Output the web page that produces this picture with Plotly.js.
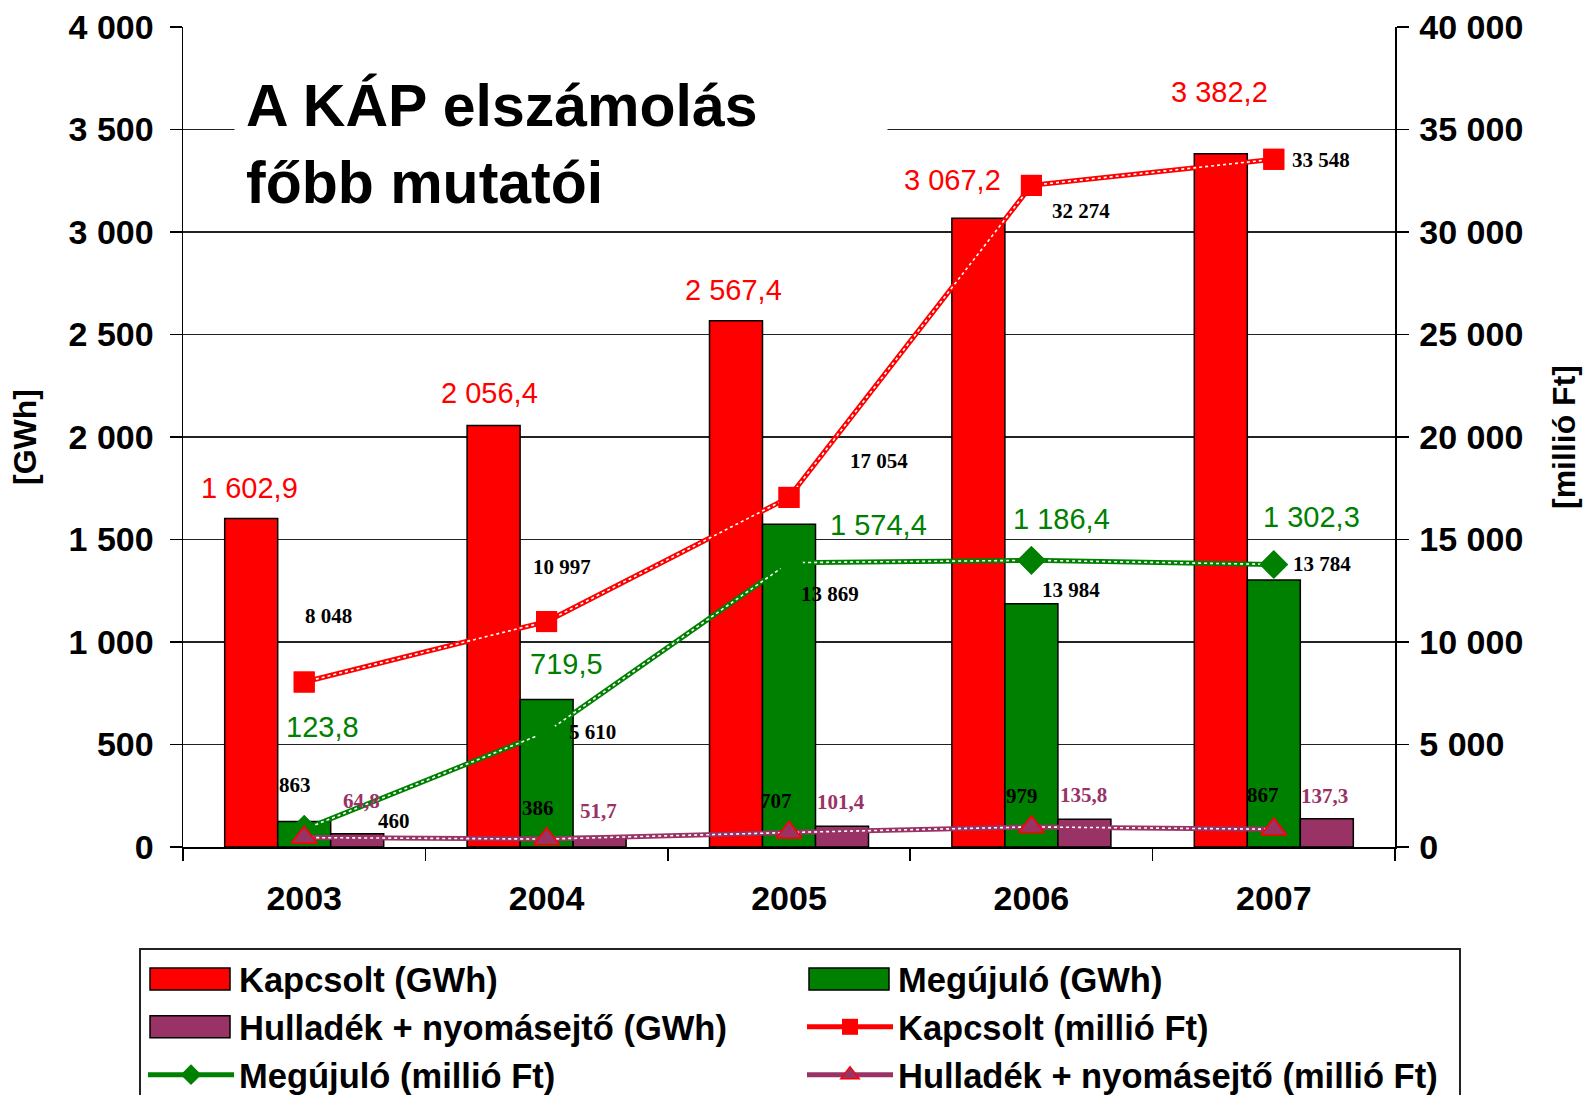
<!DOCTYPE html>
<html>
<head>
<meta charset="utf-8">
<script src="https://cdn.plot.ly/plotly-3.0.1.min.js"></script>
<style>html,body{margin:0;padding:0;background:#fff;}#chart{width:1587px;height:1095px;}</style>
</head>
<body>
<div id="chart"></div>
<script>
// ---- data ----
const years = ['2003', '2004', '2005', '2006', '2007'];
const kapcsoltGWh = [1602.9, 2056.4, 2567.4, 3067.2, 3382.2];
const megujuloGWh = [123.8, 719.5, 1574.4, 1186.4, 1302.3];
const hulladekGWh = [64.8, 51.7, 101.4, 135.8, 137.3];
const kapcsoltFt = [8048, 10997, 17054, 32274, 33548];
const megujuloFt = [863, 5610, 13869, 13984, 13784];
const hulladekFt = [460, 386, 707, 979, 867];

const seriesNames = ['Kapcsolt (GWh)', 'Megújuló (GWh)', 'Hulladék + nyomásejtő (GWh)',
                     'Kapcsolt (millió Ft)', 'Megújuló (millió Ft)', 'Hulladék + nyomásejtő (millió Ft)'];
const chartTitle = 'A KÁP elszámolás<br>főbb mutatói';
const leftAxisTitle = '[GWh]';
const rightAxisTitle = '[millió Ft]';

// ---- label offsets (px) ----
const kapcsoltGWhLabelDx = [-55, -57, -56, -79, -54];
const kapcsoltGWhLabelDy = [30, 32, 31, 38, 62];
const megujuloGWhLabelDx = [18, 20, 89, 30, 38];
const megujuloGWhLabelDy = [95, 36, -1, 85, 63];
const hulladekGWhLabelDx = [57, 52, 52, 52, 51];
const hulladekGWhLabelDy = [33, 25, 24, 24, 23];
const kapcsoltFtLabelDx = [24, 15, 90, 50, 47];
const kapcsoltFtLabelDy = [66, 55, 36, -26, -1];
const megujuloFtLabelDx = [-9, 46, 41, 40, 48];
const megujuloFtLabelDy = [44, 0, -31, -30, 0];
const hulladekFtLabelDx = [90, -9, -13, -9, -11];
const hulladekFtLabelDy = [17, 31, 32, 31, 34];

// ---- styles ----
const RED = '#FF0000', GREEN = '#008000', PURPLE = '#993366';

function group(intStr) {
  return intStr.replace(/\B(?=(\d{3})+(?!\d))/g, ' ');
}
function fmt1(v) {
  const p = v.toFixed(1).split('.');
  return group(p[0]) + ',' + p[1];
}
function fmt0(v) { return group(String(Math.round(v))); }

function barTrace(name, y, color) {
  return {
    type: 'bar', name: name, x: years, y: y, yaxis: 'y',
    marker: {color: color, line: {color: '#000', width: 1.5}},
    hoverinfo: 'skip'
  };
}

const traces = [
  barTrace(seriesNames[0], kapcsoltGWh, RED),
  barTrace(seriesNames[1], megujuloGWh, GREEN),
  barTrace(seriesNames[2], hulladekGWh, PURPLE)
];

function lineTraces(name, y, color, marker) {
  return [
    {type: 'scatter', mode: 'lines+markers', name: name, x: years, y: y, yaxis: 'y2',
     line: {color: color, width: 5}, marker: marker, hoverinfo: 'skip', cliponaxis: false},
    {type: 'scatter', mode: 'lines', x: years, y: y, yaxis: 'y2', showlegend: false,
     line: {color: '#ffffff', width: 1.6, dash: 'dot'}, hoverinfo: 'skip'},
    {type: 'scatter', mode: 'markers', x: years, y: y, yaxis: 'y2', showlegend: false,
     marker: marker, hoverinfo: 'skip', cliponaxis: false}
  ];
}

traces.push(...lineTraces(seriesNames[3], kapcsoltFt, RED,
  {symbol: 'square', size: 21, color: RED, line: {color: RED, width: 0}}));
traces.push(...lineTraces(seriesNames[4], megujuloFt, GREEN,
  {symbol: 'diamond', size: 22, color: GREEN, line: {color: GREEN, width: 0}}));
traces.push(...lineTraces(seriesNames[5], hulladekFt, PURPLE,
  {symbol: 'triangle-up', size: 22, color: PURPLE, line: {color: RED, width: 1.5}}));

const annotations = [];
function addLabels(vals, fmt, yref, dx, dy, font) {
  vals.forEach((v, i) => {
    annotations.push({
      x: i, y: v, xref: 'x', yref: yref, text: fmt(v), showarrow: false,
      xshift: dx[i], yshift: dy[i], xanchor: 'center', yanchor: 'middle',
      font: font
    });
  });
}
const bigFont = c => ({family: 'Liberation Sans, Arial, sans-serif', size: 29, color: c});
const smallFont = c => ({family: 'Liberation Serif, Times New Roman, serif', size: 21, color: c, weight: 'bold'});

addLabels(kapcsoltGWh, fmt1, 'y', kapcsoltGWhLabelDx, kapcsoltGWhLabelDy, bigFont(RED));
addLabels(megujuloGWh, fmt1, 'y', megujuloGWhLabelDx, megujuloGWhLabelDy, bigFont(GREEN));
addLabels(hulladekGWh, fmt1, 'y', hulladekGWhLabelDx, hulladekGWhLabelDy, smallFont(PURPLE));
addLabels(kapcsoltFt, fmt0, 'y2', kapcsoltFtLabelDx, kapcsoltFtLabelDy, smallFont('#000'));
addLabels(megujuloFt, fmt0, 'y2', megujuloFtLabelDx, megujuloFtLabelDy, smallFont('#000'));
addLabels(hulladekFt, fmt0, 'y2', hulladekFtLabelDx, hulladekFtLabelDy, smallFont('#000'));

// chart title box inside plot
annotations.push({
  xref: 'paper', yref: 'paper', x: 0.042, y: 0.857, xanchor: 'left', yanchor: 'middle',
  text: '<b>' + chartTitle + '</b>', showarrow: false, align: 'left',
  width: 630, borderpad: 11, bgcolor: '#ffffff',
  font: {family: 'Liberation Sans, Arial, sans-serif', size: 59, color: '#000'}
});

const tickFont = {family: 'Liberation Sans, Arial, sans-serif', size: 34, color: '#000', weight: 'bold'};
const axTitleFont = {family: 'Liberation Sans, Arial, sans-serif', size: 32, color: '#000', weight: 'bold'};

const layout = {
  width: 1587, height: 1095,
  margin: {l: 183, r: 192, t: 27, b: 248, autoexpand: false},
  paper_bgcolor: '#ffffff', plot_bgcolor: '#ffffff',
  separators: ', ',
  barmode: 'group', bargap: 0.344, bargroupgap: 0,
  showlegend: true,
  xaxis: {
    type: 'category', range: [-0.5, 4.5], tickson: 'boundaries',
    ticks: 'outside', ticklen: 12, tickwidth: 1.5, tickcolor: '#000',
    showline: true, linecolor: '#000', linewidth: 1.5, showgrid: false,
    tickfont: tickFont, ticklabelstandoff: 21, fixedrange: true
  },
  yaxis: {
    range: [0, 4000], dtick: 500, tick0: 0, tickformat: ',d',
    ticks: 'outside', ticklen: 12, tickwidth: 1.5, tickcolor: '#000',
    showline: true, linecolor: '#000', linewidth: 1.5,
    showgrid: true, gridcolor: '#222', gridwidth: 1.5, zeroline: false,
    tickfont: tickFont, ticklabelstandoff: 9,
    title: {text: leftAxisTitle, font: axTitleFont, standoff: 22}
  },
  yaxis2: {
    overlaying: 'y', side: 'right', range: [0, 40000], dtick: 5000, tick0: 0, tickformat: ',d',
    ticks: 'outside', ticklen: 12, tickwidth: 1.5, tickcolor: '#000',
    showline: true, linecolor: '#000', linewidth: 1.5,
    showgrid: false, zeroline: false,
    tickfont: tickFont, ticklabelstandoff: 4,
    title: {text: rightAxisTitle, font: axTitleFont, standoff: 30}
  },
  legend: {
    orientation: 'h', x: -0.0363, y: -0.1232, xanchor: 'left', yanchor: 'top',
    bordercolor: '#222', borderwidth: 2, bgcolor: '#fff',
    itemwidth: 86, indentation: 2, entrywidth: 556, entrywidthmode: 'pixels',
    traceorder: 'normal',
    font: {family: 'Liberation Sans, Arial, sans-serif', size: 34.5, color: '#000', weight: 'bold'}
  },
  annotations: annotations
};

function widenLegendBars(gd) {
  // widen the bar swatches in the legend to a rectangle like the original
  const paths = gd.querySelectorAll('g.legendpoints path');
  paths.forEach(p => {
    const d = p.getAttribute('d') || '';
    if (p.classList.contains('legendbar') || /^M6,6H-6V-6H6Z$/.test(d)) {
      p.setAttribute('d', 'M39,11H-41V-11H39Z');
    }
  });
}

const gdiv = document.getElementById('chart');
Plotly.newPlot(gdiv, traces, layout, {displayModeBar: false, staticPlot: true}).then(() => {
  widenLegendBars(gdiv);
  setTimeout(() => widenLegendBars(gdiv), 50);
});
gdiv.on && gdiv.on('plotly_afterplot', () => widenLegendBars(gdiv));
</script>
</body>
</html>
